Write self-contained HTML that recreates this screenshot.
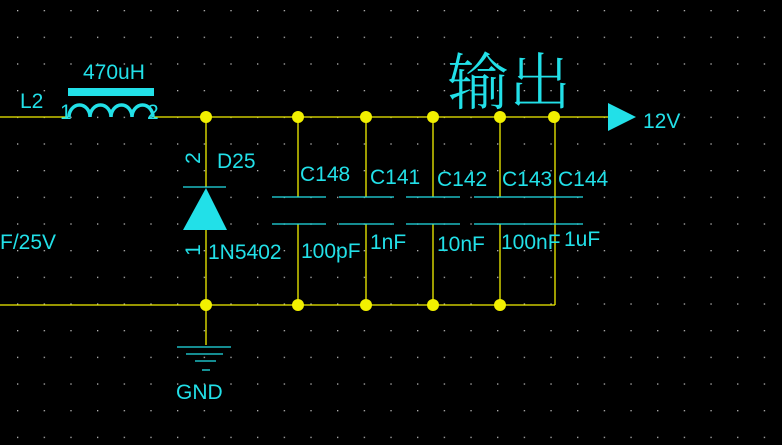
<!DOCTYPE html>
<html><head><meta charset="utf-8"><style>
html,body{margin:0;padding:0;background:#000;}
svg{display:block}
text{font-family:"Liberation Sans",sans-serif;fill:#22e0e8;font-size:21px}
</style></head><body>
<svg width="782" height="445" viewBox="0 0 782 445" xmlns="http://www.w3.org/2000/svg">
<defs><pattern id="g" x="17" y="10" width="26.67" height="26.67" patternUnits="userSpaceOnUse"><rect x="0" y="0" width="1.3" height="1.3" fill="#bbb"/></pattern></defs>
<rect width="782" height="445" fill="#000"/>
<rect width="782" height="445" fill="url(#g)"/>
<g stroke="#f2f000" stroke-width="1.3" fill="none">
<line x1="0" y1="117" x2="68" y2="117"/>
<line x1="154" y1="117" x2="608" y2="117"/>
<line x1="0" y1="305" x2="555" y2="305"/>
<line x1="555" y1="117" x2="555" y2="305"/>
<line x1="206" y1="117" x2="206" y2="187"/>
<line x1="206" y1="230" x2="206" y2="345"/>
<line x1="298" y1="117" x2="298" y2="197"/><line x1="298" y1="224" x2="298" y2="305"/>
<line x1="366" y1="117" x2="366" y2="197"/><line x1="366" y1="224" x2="366" y2="305"/>
<line x1="433" y1="117" x2="433" y2="197"/><line x1="433" y1="224" x2="433" y2="305"/>
<line x1="500" y1="117" x2="500" y2="197"/><line x1="500" y1="224" x2="500" y2="305"/>
</g>
<g fill="#f2f000">
<circle cx="206" cy="117" r="6"/><circle cx="298" cy="117" r="6"/><circle cx="366" cy="117" r="6"/><circle cx="433" cy="117" r="6"/><circle cx="500" cy="117" r="6"/><circle cx="554" cy="117" r="6"/>
<circle cx="206" cy="305" r="6"/><circle cx="298" cy="305" r="6"/><circle cx="366" cy="305" r="6"/><circle cx="433" cy="305" r="6"/><circle cx="500" cy="305" r="6"/>
</g>
<g stroke="#22e0e8" stroke-width="1.3" fill="none">
<line x1="272" y1="197" x2="326" y2="197"/><line x1="272" y1="224" x2="326" y2="224"/>
<line x1="339" y1="197" x2="394" y2="197"/><line x1="339" y1="224" x2="394" y2="224"/>
<line x1="406" y1="197" x2="460" y2="197"/><line x1="406" y1="224" x2="460" y2="224"/>
<line x1="474" y1="197" x2="583" y2="197"/><line x1="474" y1="224" x2="583" y2="224"/>
<line x1="183" y1="187" x2="226" y2="187"/>
<line x1="177" y1="347" x2="231" y2="347"/><line x1="186" y1="354" x2="223" y2="354"/><line x1="195" y1="361" x2="216" y2="361"/><line x1="202" y1="370" x2="210" y2="370"/>
<path d="M69 117 A10.5 12 0 0 1 90 117 A10.5 12 0 0 1 111 117 A10.5 12 0 0 1 132 117 A10.5 12 0 0 1 153 117" stroke-width="3.5"/>
</g>
<rect x="68" y="88" width="86" height="8" fill="#22e0e8"/>
<polygon points="206,188 183,230 227,230" fill="#22e0e8"/>
<polygon points="608,103 636,117 608,131" fill="#22e0e8"/>
<text x="20" y="108">L2</text>
<text x="83" y="79">470uH</text>
<text x="60" y="119">1</text>
<text x="147" y="119">2</text>
<text x="217" y="168">D25</text>
<text transform="translate(200,158) rotate(-90)" text-anchor="middle">2</text>
<text transform="translate(200,250) rotate(-90)" text-anchor="middle">1</text>
<text x="208" y="259">1N5402</text>
<text x="0" y="249">F/25V</text>
<text x="300" y="181">C148</text>
<text x="370" y="184">C141</text>
<text x="437" y="186">C142</text>
<text x="502" y="186">C143</text>
<text x="558" y="186">C144</text>
<text x="301" y="258">100pF</text>
<text x="370" y="249">1nF</text>
<text x="437" y="251">10nF</text>
<text x="501" y="249">100nF</text>
<text x="564" y="246">1uF</text>
<text x="643" y="128">12V</text>
<text x="176" y="399">GND</text>
<text x="447" y="104" style="font-family:'Noto Serif CJK SC','Noto Sans CJK SC',serif;font-size:62px;font-weight:300">输出</text>
</svg>
</body></html>
